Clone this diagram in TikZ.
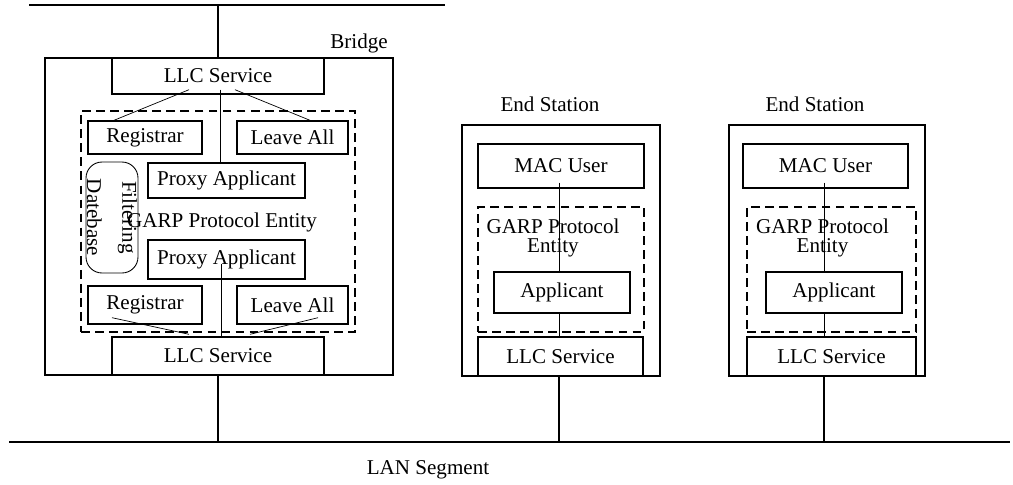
\documentclass[tikz,border=0pt]{standalone}
\usepackage{fontspec}
\setmainfont{Liberation Serif}
\begin{document}
\begin{tikzpicture}[x=0.02cm, y=-0.02cm,
    every node/.style={font=\fontsize{12}{14}\selectfont},
    box/.style={draw, line width=0.8pt, inner sep=0pt},
    garp/.style={draw, line width=0.8pt, dash pattern=on 5pt off 3pt},
    wire/.style={line width=0.4pt},
    trunk/.style={line width=0.8pt}]
    \useasboundingbox (0,0) rectangle (1013,484);

    % segments
    \coordinate (busL) at (29,5);
    \coordinate (busR) at (445,5);
    \draw[trunk] (busL) -- (busR);
    \coordinate (lanL) at (9,442);
    \coordinate (lanR) at (1010,442);
    \draw[trunk] (lanL) -- (lanR);
    \node (lan) at (428,470) {LAN Segment};

    % bridge
    \node (bridgelbl) at (359,43) {Bridge};
    \node[box, minimum width=6.96cm, minimum height=6.34cm] (bridge) at (219,216.5) {};
    \node[garp, minimum width=5.48cm, minimum height=4.42cm] (garpB) at (218,221.5) {};
    \node[box, minimum width=4.24cm, minimum height=0.72cm] (llcT) at (218,76) {LLC Service};
    \node[box, minimum width=2.28cm, minimum height=0.66cm] (regT) at (145,137.5) {Registrar};
    \node[box, minimum width=2.22cm, minimum height=0.66cm] (leaveT) at (292.5,137.5) {Leave All};
    \node[box, minimum width=3.14cm, minimum height=0.70cm] (proxyT) at (226.5,180.5) {Proxy Applicant};
    \node[draw, line width=0.5pt, rounded corners=0.32cm, rotate=-90, inner sep=0pt,
          minimum width=2.22cm, minimum height=1.04cm, align=center] (fdb) at (112,217.5) {Filtering\\[6pt]Datebase};
    \node (garpBlbl) at (222,222) {GARP Protocol Entity};
    \node[box, minimum width=3.14cm, minimum height=0.78cm] (proxyB) at (226.5,259.5) {Proxy Applicant};
    \node[box, minimum width=2.28cm, minimum height=0.76cm] (regB) at (145,305) {Registrar};
    \node[box, minimum width=2.22cm, minimum height=0.76cm] (leaveB) at (292.5,305) {Leave All};
    \node[box, minimum width=4.24cm, minimum height=0.76cm] (llcB) at (218,356) {LLC Service};

    \coordinate (tapT) at ([xshift=0.04cm,yshift=0.1cm]llcT.south);
    \draw[wire] ([xshift=-0.58cm,yshift=0.1cm]llcT.south) -- ([xshift=-0.62cm]regT.north);
    \draw[wire] (tapT) -- (tapT |- proxyT.north);
    \draw[wire] ([xshift=0.34cm,yshift=0.1cm]llcT.south) -- ([xshift=0.35cm]leaveT.north);

    \coordinate (tapB) at ([xshift=-0.11cm,yshift=0.32cm]proxyB.south);
    \draw[wire] (tapB) -- (tapB |- llcB.north);
    \draw[wire] ([xshift=-0.66cm,yshift=0.14cm]regB.south) -- ([xshift=-0.58cm,yshift=0.04cm]llcB.north);
    \draw[wire] ([xshift=0.51cm,yshift=0.14cm]leaveB.south) -- ([xshift=0.64cm,yshift=0.04cm]llcB.north);

    \draw[trunk] (llcT.north) -- (llcT.north |- busL);
    \draw[trunk] (llcB.south) -- (llcB.south |- lanL);

    % first end station
    \node (es1lbl) at (550,104) {End Station};
    \node[box, minimum width=3.96cm, minimum height=5.02cm] (es1) at (561,250.5) {};
    \node[box, minimum width=3.32cm, minimum height=0.88cm] (mac1) at (561,166) {MAC User};
    \node[garp, minimum width=3.32cm, minimum height=2.5cm] (garp1) at (561,269.5) {};
    \node[align=center, font=\fontsize{12}{11}\selectfont] (garp1lbl) at (553,238) {GARP Protocol\\Entity};
    \node[box, minimum width=2.72cm, minimum height=0.82cm] (app1) at (562,292.5) {Applicant};
    \node[box, minimum width=3.3cm, minimum height=0.78cm] (llc1) at (560.5,356.5) {LLC Service};

    \coordinate (tap1) at ([xshift=-0.04cm,yshift=0.12cm]mac1.south);
    \draw[wire] (tap1) -- (tap1 |- app1.north);
    \draw[wire] (tap1 |- app1.south) -- (tap1 |- llc1.north);
    \draw[trunk] (tap1 |- llc1.south) -- (tap1 |- lanL);

    % second end station
    \node (es2lbl) at (815,104) {End Station};
    \node[box, minimum width=3.92cm, minimum height=5.02cm] (es2) at (827,250.5) {};
    \node[box, minimum width=3.3cm, minimum height=0.88cm] (mac2) at (825.5,166) {MAC User};
    \node[garp, minimum width=3.38cm, minimum height=2.5cm] (garp2) at (831.5,269.5) {};
    \node[align=center, font=\fontsize{12}{11}\selectfont] (garp2lbl) at (822.5,238) {GARP Protocol\\Entity};
    \node[box, minimum width=2.72cm, minimum height=0.82cm] (app2) at (834,292.5) {Applicant};
    \node[box, minimum width=3.38cm, minimum height=0.78cm] (llc2) at (831.5,356.5) {LLC Service};

    \coordinate (tap2) at ([xshift=-0.03cm,yshift=0.12cm]mac2.south);
    \draw[wire] (tap2) -- (tap2 |- app2.north);
    \draw[wire] (tap2 |- app2.south) -- (tap2 |- llc2.north);
    \draw[trunk] (tap2 |- llc2.south) -- (tap2 |- lanL);
\end{tikzpicture}
\end{document}
